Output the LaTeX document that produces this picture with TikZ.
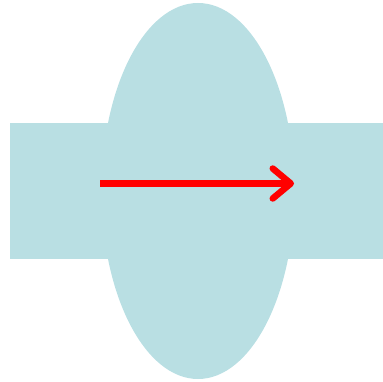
\documentclass[tikz,border=0pt]{standalone}
\usetikzlibrary{arrows.meta}
\definecolor{shapefill}{RGB}{185,223,227}
\begin{document}
\begin{tikzpicture}[x=1pt,y=-1pt,
  shapestyle/.style={fill=shapefill,draw=none},
  arrowstyle/.style={draw=red,line width=6.5pt,-{Straight Barb[round,length=18pt,width=30pt]}}]
\useasboundingbox (0,0) rectangle (383,382);
\fill[shapestyle] (10,123) rectangle (383,259);
\fill[shapestyle] (198,191) ellipse [x radius=96.5, y radius=188];
\coordinate (s) at (100,183.5);
\coordinate (e) at (294,183.5);
\draw[arrowstyle] (s) -- (e);
\end{tikzpicture}
\end{document}
